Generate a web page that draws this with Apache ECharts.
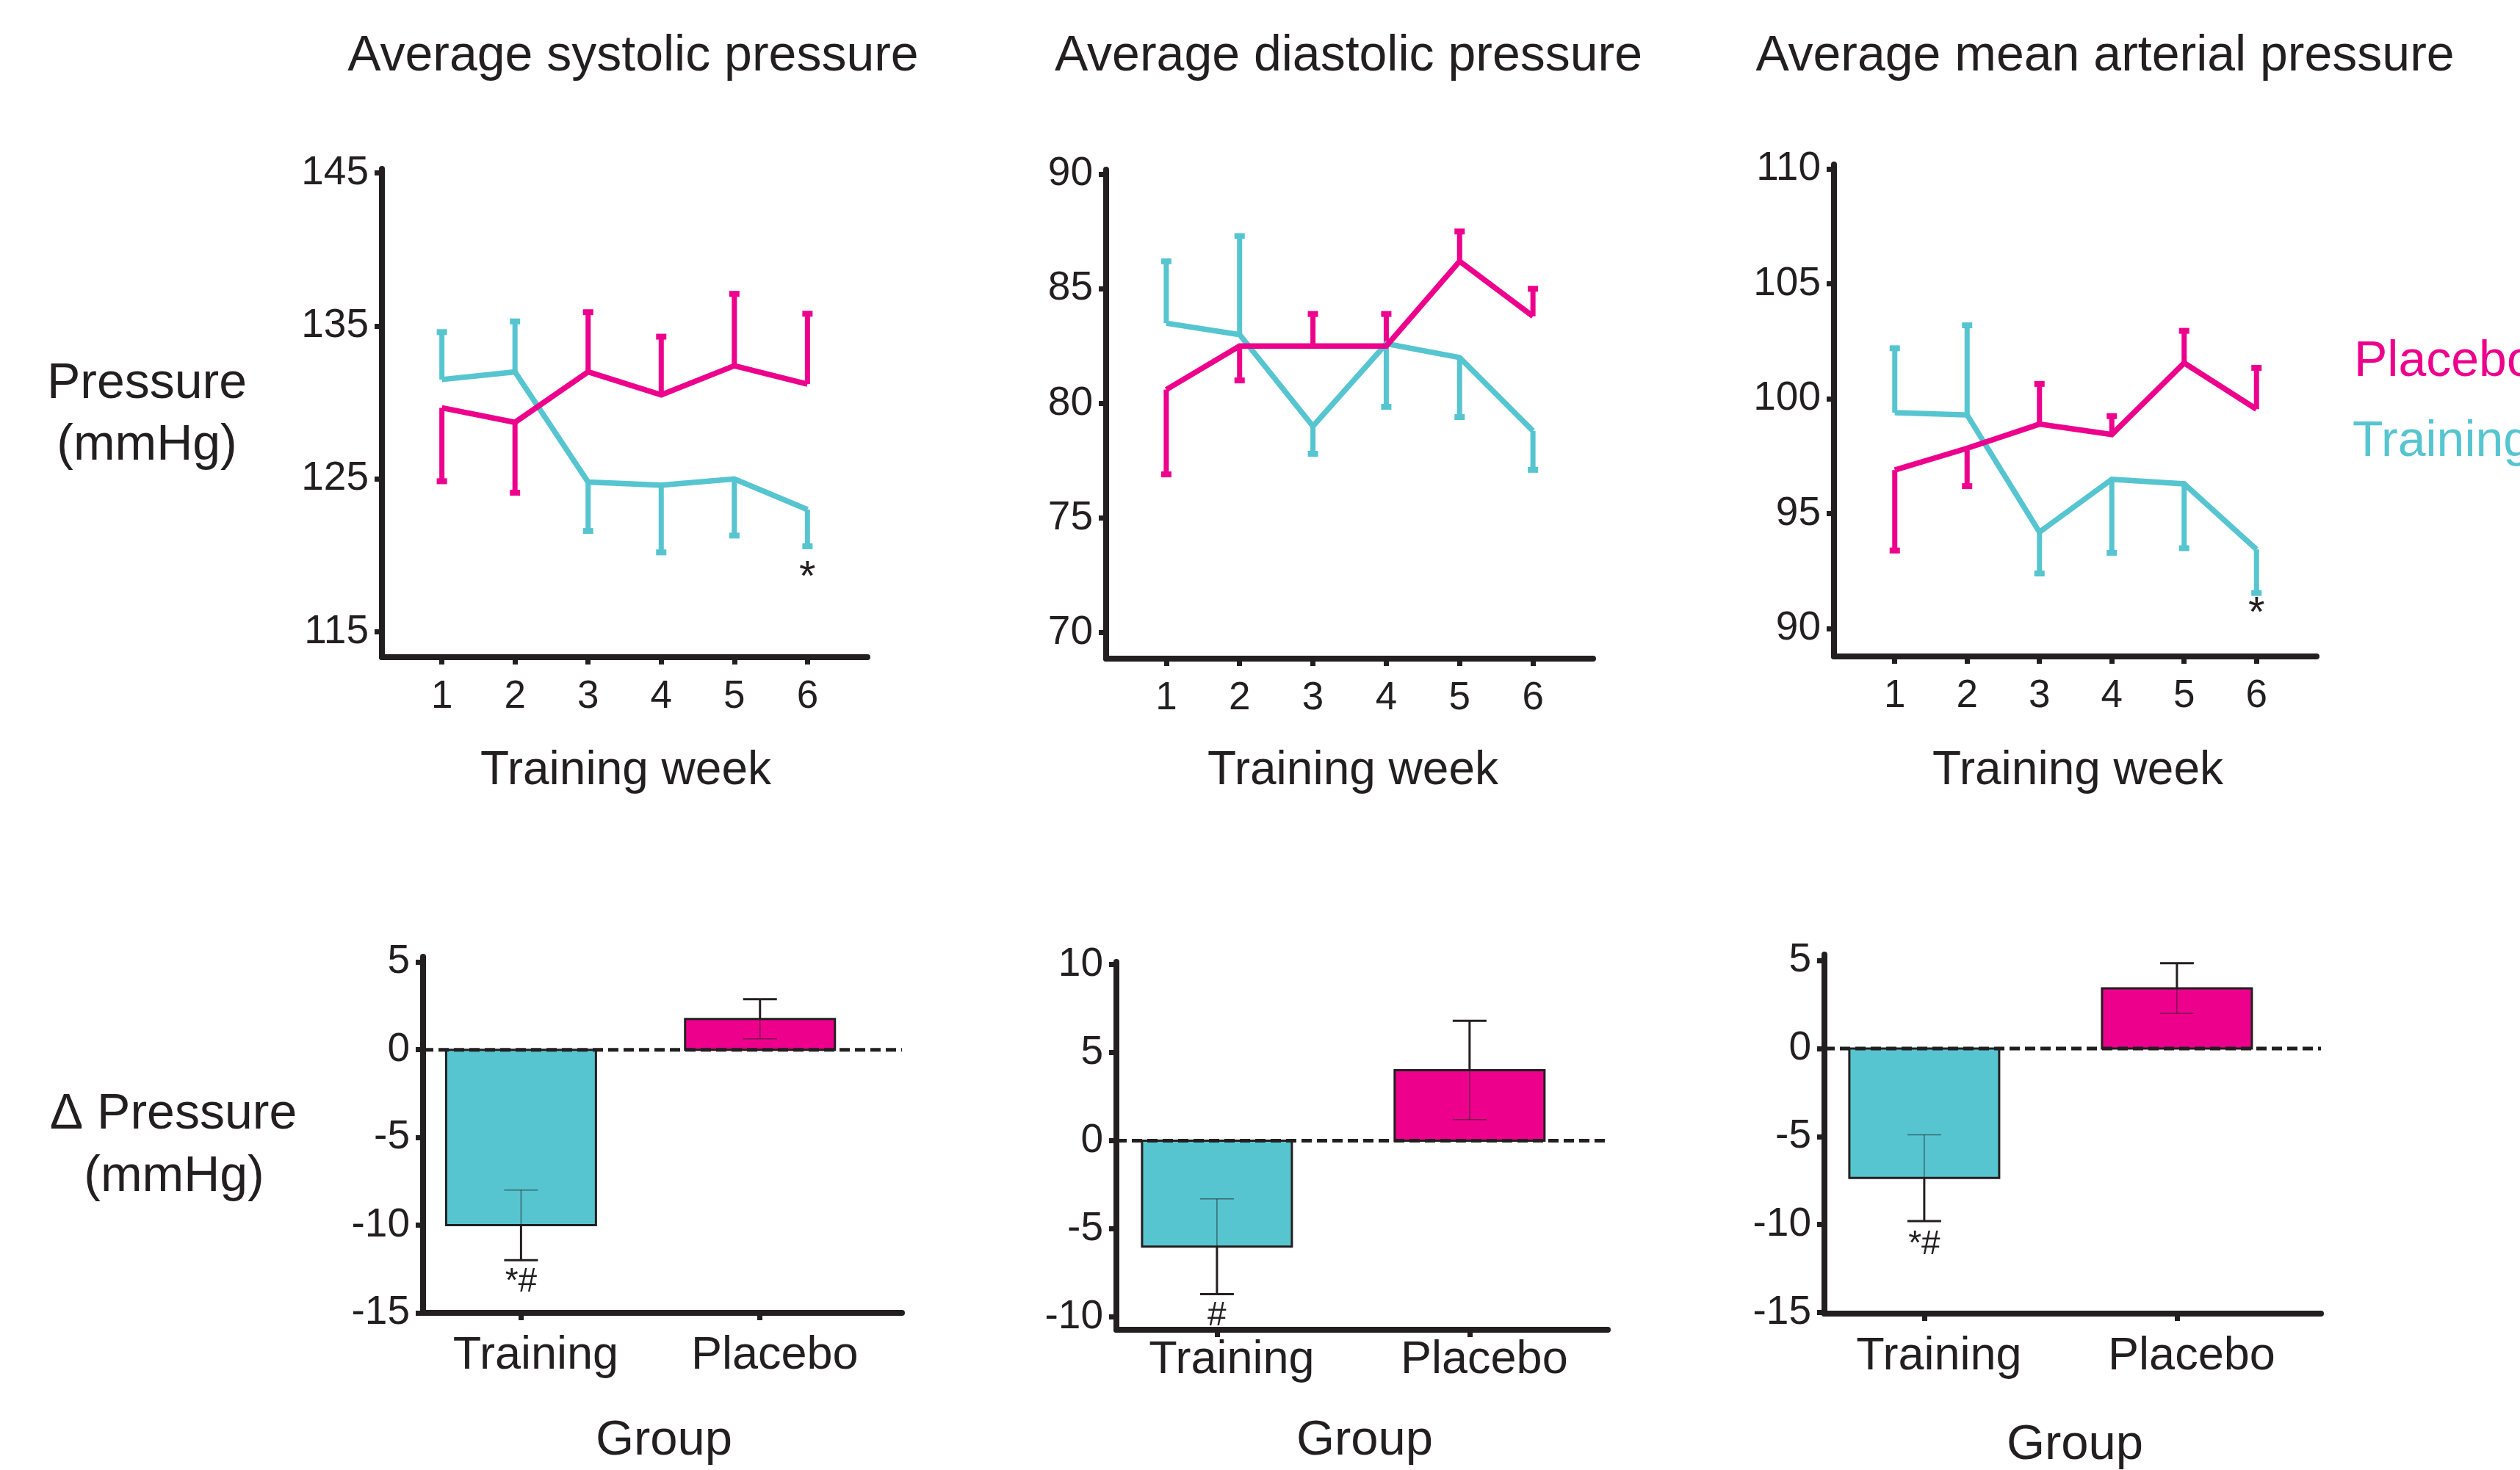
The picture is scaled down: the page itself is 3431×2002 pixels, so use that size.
<!DOCTYPE html>
<html>
<head>
<meta charset="utf-8">
<script src="https://cdn.jsdelivr.net/npm/echarts@6/dist/echarts.min.js"></script>
<style>
html,body{margin:0;padding:0;background:#fff;}
#chart{width:3431px;height:2002px;}
</style>
</head>
<body>
<div id="chart"></div>
<script>
// ---------- DATA ----------
const weeks = [1, 2, 3, 4, 5, 6];
const groups = ['Training', 'Placebo'];

// Systolic (mean, signed SEM: + = bar drawn upward, - = downward)
const sysTrainMean = [131.5, 132.0, 124.8, 124.6, 125.0, 123.0];
const sysTrainErr  = [3.1, 3.3, -3.2, -4.4, -3.7, -2.4];
const sysPlacMean  = [129.65, 128.7, 132.0, 130.5, 132.4, 131.2];
const sysPlacErr   = [-4.8, -4.6, 3.9, 3.8, 4.7, 4.6];
// Diastolic
const diaTrainMean = [83.5, 83.0, 79.0, 82.6, 82.0, 78.8];
const diaTrainErr  = [2.7, 4.3, -1.2, -2.75, -2.6, -1.7];
const diaPlacMean  = [80.6, 82.5, 82.5, 82.5, 86.2, 83.8];
const diaPlacErr   = [-3.7, -1.5, 1.4, 1.4, 1.3, 1.2];
// Mean arterial
const mapTrainMean = [99.4, 99.3, 94.2, 96.5, 96.3, 93.45];
const mapTrainErr  = [2.8, 3.9, -1.8, -3.2, -2.8, -1.9];
const mapPlacMean  = [96.9, 97.85, 98.9, 98.45, 101.56, 99.55];
const mapPlacErr   = [-3.5, -1.65, 1.75, 0.8, 1.4, 1.8];

// Change in pressure (Training, Placebo)
const dSysMean = [-10.0, 1.75];
const dSysErr  = [2.0, 1.13];
const dDiaMean = [-6.0, 4.0];
const dDiaErr  = [2.7, 2.8];
const dMapMean = [-7.35, 3.42];
const dMapErr  = [2.45, 1.43];

// Tick labels
const sysTicks  = [115, 125, 135, 145];
const diaTicks  = [70, 75, 80, 85, 90];
const mapTicks  = [90, 95, 100, 105, 110];
const dSysTicks = [-15, -10, -5, 0, 5];
const dDiaTicks = [-10, -5, 0, 5, 10];
const dMapTicks = [-15, -10, -5, 0, 5];

// Significance marks [x, y, text]
const sysMarks  = [[6, 118.5, '*']];
const mapMarks  = [[6, 90.6, '*']];
const dSysMarks = [[1, -13.25, '*#']];
const dDiaMarks = [[1, -9.95, '#']];
const dMapMarks = [[1, -11.15, '*#']];

// ---------- STYLE ----------
const FONT = '"Liberation Sans", Arial, Helvetica, sans-serif';
const DARK = '#231f20';
const TEAL = '#56c5d0';
const MAG = '#ec008c';

// panel layout
const panels = [
  {left: 520,  top: 230,  width: 661, height: 665, xr: [0.18, 6.82], yr: [113.35, 145.27], ticks: sysTicks},
  {left: 1506, top: 231,  width: 663, height: 666, xr: [0.18, 6.82], yr: [68.86, 90.2],   ticks: diaTicks},
  {left: 2497, top: 224,  width: 657, height: 670, xr: [0.16, 6.83], yr: [88.79, 110.2],  ticks: mapTicks},
  {left: 576,  top: 1303, width: 652, height: 485, xr: [0.59, 2.594], yr: [-15, 5.3],     ticks: dSysTicks, labMargin: 27},
  {left: 1520, top: 1310, width: 669, height: 501, xr: [0.602, 2.547], yr: [-10.72, 10.14], ticks: dDiaTicks, labMargin: 10},
  {left: 2484, top: 1300, width: 676, height: 489, xr: [0.605, 2.57], yr: [-15.06, 5.34], ticks: dMapTicks, labMargin: 27}
];

const grid = panels.map(p => ({left: p.left, top: p.top, width: p.width, height: p.height, containLabel: false}));

const xAxis = panels.map((p, i) => {
  const isBar = i >= 3;
  return {
    type: 'value', gridIndex: i, min: p.xr[0], max: p.xr[1],
    splitLine: {show: false},
    axisLine: {show: true, onZero: false, lineStyle: {color: DARK, width: 8}},
    axisTick: {show: true, length: 10, customValues: isBar ? [1, 2] : weeks,
               lineStyle: {color: DARK, width: 7}},
    axisLabel: isBar ? {
      customValues: [1, 2], margin: p.labMargin, color: DARK, fontFamily: FONT, fontSize: 63,
      padding: [0, 0, 0, 40],
      formatter: v => groups[Math.round(v) - 1] || ''
    } : {
      customValues: weeks, margin: 28, color: DARK, fontFamily: FONT, fontSize: 53,
      formatter: v => String(v)
    }
  };
});

const yAxis = panels.map((p, i) => ({
  type: 'value', gridIndex: i, min: p.yr[0], max: p.yr[1],
  splitLine: {show: false},
  axisLine: {show: true, onZero: false, lineStyle: {color: DARK, width: 8}},
  axisTick: {show: true, length: 10, customValues: p.ticks, lineStyle: {color: DARK, width: 7}},
  axisLabel: {customValues: p.ticks, margin: 18, color: DARK, fontFamily: FONT, fontSize: 55,
              formatter: v => String(v)}
}));

function zip(xs, ys) { return xs.map((x, k) => [x, ys[k]]); }
function zip3(xs, ys, es) { return xs.map((x, k) => [x, ys[k], es[k]]); }

function lineSeries(i, means, color) {
  return {
    type: 'line', xAxisIndex: i, yAxisIndex: i, data: zip(weeks, means),
    symbol: 'none', lineStyle: {color: color, width: 7.5, join: 'miter'}, z: 3, silent: true
  };
}

function errSeries(i, means, errs, color) {
  return {
    type: 'custom', xAxisIndex: i, yAxisIndex: i, data: zip3(weeks, means, errs), z: 2, silent: true,
    renderItem: (params, api) => {
      const x = api.value(0), m = api.value(1), e = api.value(2);
      const p0 = api.coord([x, m]);
      const p1 = api.coord([x, m + e]);
      return {
        type: 'group', children: [
          {type: 'line', shape: {x1: p0[0], y1: p0[1], x2: p1[0], y2: p1[1]},
           style: {stroke: color, lineWidth: 7}},
          {type: 'rect', shape: {x: p1[0] - 7, y: p1[1] - 4, width: 14, height: 8},
           style: {fill: color}}
        ]
      };
    }
  };
}

function markSeries(i, marks, size) {
  return {
    type: 'custom', xAxisIndex: i, yAxisIndex: i, data: marks, z: 5, silent: true,
    renderItem: (params, api) => {
      const p = api.coord([api.value(0), api.value(1)]);
      const t = marks[params.dataIndex][2];
      return {type: 'text', x: p[0], y: p[1],
              style: {text: t, font: size + 'px ' + FONT, fill: DARK,
                      textAlign: 'center', textVerticalAlign: 'middle'}};
    }
  };
}

function barSeries(i, means) {
  const cols = [TEAL, MAG];
  return {
    type: 'custom', xAxisIndex: i, yAxisIndex: i, data: zip([1, 2], means), z: 2, silent: true,
    renderItem: (params, api) => {
      const x = api.value(0), v = api.value(1);
      const p0 = api.coord([x, 0]);
      const p1 = api.coord([x, v]);
      const bw = 204;
      return {type: 'rect',
        shape: {x: p0[0] - bw / 2, y: Math.min(p0[1], p1[1]), width: bw, height: Math.abs(p1[1] - p0[1])},
        style: {fill: cols[params.dataIndex], stroke: DARK, lineWidth: 3}};
    }
  };
}

function barErrSeries(i, means, errs) {
  return {
    type: 'custom', xAxisIndex: i, yAxisIndex: i, data: zip3([1, 2], means, errs), z: 4, silent: true,
    renderItem: (params, api) => {
      const x = api.value(0), m = api.value(1), e = api.value(2);
      const s = m < 0 ? -1 : 1;
      const pm = api.coord([x, m]);
      const po = api.coord([x, m + s * e]);
      const pi = api.coord([x, m - s * e]);
      const cw = 23;
      return {type: 'group', children: [
        {type: 'line', shape: {x1: pm[0], y1: pm[1], x2: po[0], y2: po[1]}, style: {stroke: DARK, lineWidth: 3}},
        {type: 'line', shape: {x1: po[0] - cw, y1: po[1], x2: po[0] + cw, y2: po[1]}, style: {stroke: DARK, lineWidth: 3}},
        {type: 'line', shape: {x1: pm[0], y1: pm[1], x2: pi[0], y2: pi[1]}, style: {stroke: 'rgba(35,31,32,0.55)', lineWidth: 1.5}},
        {type: 'line', shape: {x1: pi[0] - cw, y1: pi[1], x2: pi[0] + cw, y2: pi[1]}, style: {stroke: 'rgba(35,31,32,0.55)', lineWidth: 1.5}}
      ]};
    }
  };
}

function zeroLine(i) {
  const p = panels[i];
  return {
    type: 'line', xAxisIndex: i, yAxisIndex: i, data: [[p.xr[0], 0], [p.xr[1], 0]],
    symbol: 'none', z: 3, silent: true,
    lineStyle: {color: DARK, width: 5, type: [14, 7]}
  };
}

const series = [
  errSeries(0, sysTrainMean, sysTrainErr, TEAL), errSeries(0, sysPlacMean, sysPlacErr, MAG),
  lineSeries(0, sysTrainMean, TEAL), lineSeries(0, sysPlacMean, MAG), markSeries(0, sysMarks, 58),
  errSeries(1, diaTrainMean, diaTrainErr, TEAL), errSeries(1, diaPlacMean, diaPlacErr, MAG),
  lineSeries(1, diaTrainMean, TEAL), lineSeries(1, diaPlacMean, MAG),
  errSeries(2, mapTrainMean, mapTrainErr, TEAL), errSeries(2, mapPlacMean, mapPlacErr, MAG),
  lineSeries(2, mapTrainMean, TEAL), lineSeries(2, mapPlacMean, MAG), markSeries(2, mapMarks, 58),
  barSeries(3, dSysMean), barErrSeries(3, dSysMean, dSysErr), zeroLine(3), markSeries(3, dSysMarks, 46),
  barSeries(4, dDiaMean), barErrSeries(4, dDiaMean, dDiaErr), zeroLine(4), markSeries(4, dDiaMarks, 46),
  barSeries(5, dMapMean), barErrSeries(5, dMapMean, dMapErr), zeroLine(5), markSeries(5, dMapMarks, 46)
];

function txt(text, x, y, size, color, align) {
  return {type: 'text', x: x, y: y, silent: true,
    style: {text: text, font: size + 'px ' + FONT, fill: color || DARK,
            textAlign: align || 'center', textVerticalAlign: 'middle'}};
}

const graphic = [
  txt('Average systolic pressure', 862, 77, 68),
  txt('Average diastolic pressure', 1836, 77, 68),
  txt('Average mean arterial pressure', 2866, 77, 68),
  txt('Training week', 852, 1050, 64),
  txt('Training week', 1842, 1050, 64),
  txt('Training week', 2829, 1050, 64),
  txt('Group', 904, 1963, 67),
  txt('Group', 1858, 1963, 67),
  txt('Group', 2825, 1969, 67),
  txt('Pressure', 200, 523, 68),
  txt('(mmHg)', 200, 607, 68),
  txt('\u0394 Pressure', 236, 1518, 68),
  txt('(mmHg)', 237, 1603, 68),
  txt('Placebo', 3205, 493, 68, MAG, 'left'),
  txt('Training', 3203, 602, 68, TEAL, 'left')
];

const chart = echarts.init(document.getElementById('chart'), null, {renderer: 'canvas'});
chart.setOption({
  animation: false,
  backgroundColor: '#ffffff',
  grid: grid,
  xAxis: xAxis,
  yAxis: yAxis,
  series: series,
  graphic: graphic
});
</script>
</body>
</html>
